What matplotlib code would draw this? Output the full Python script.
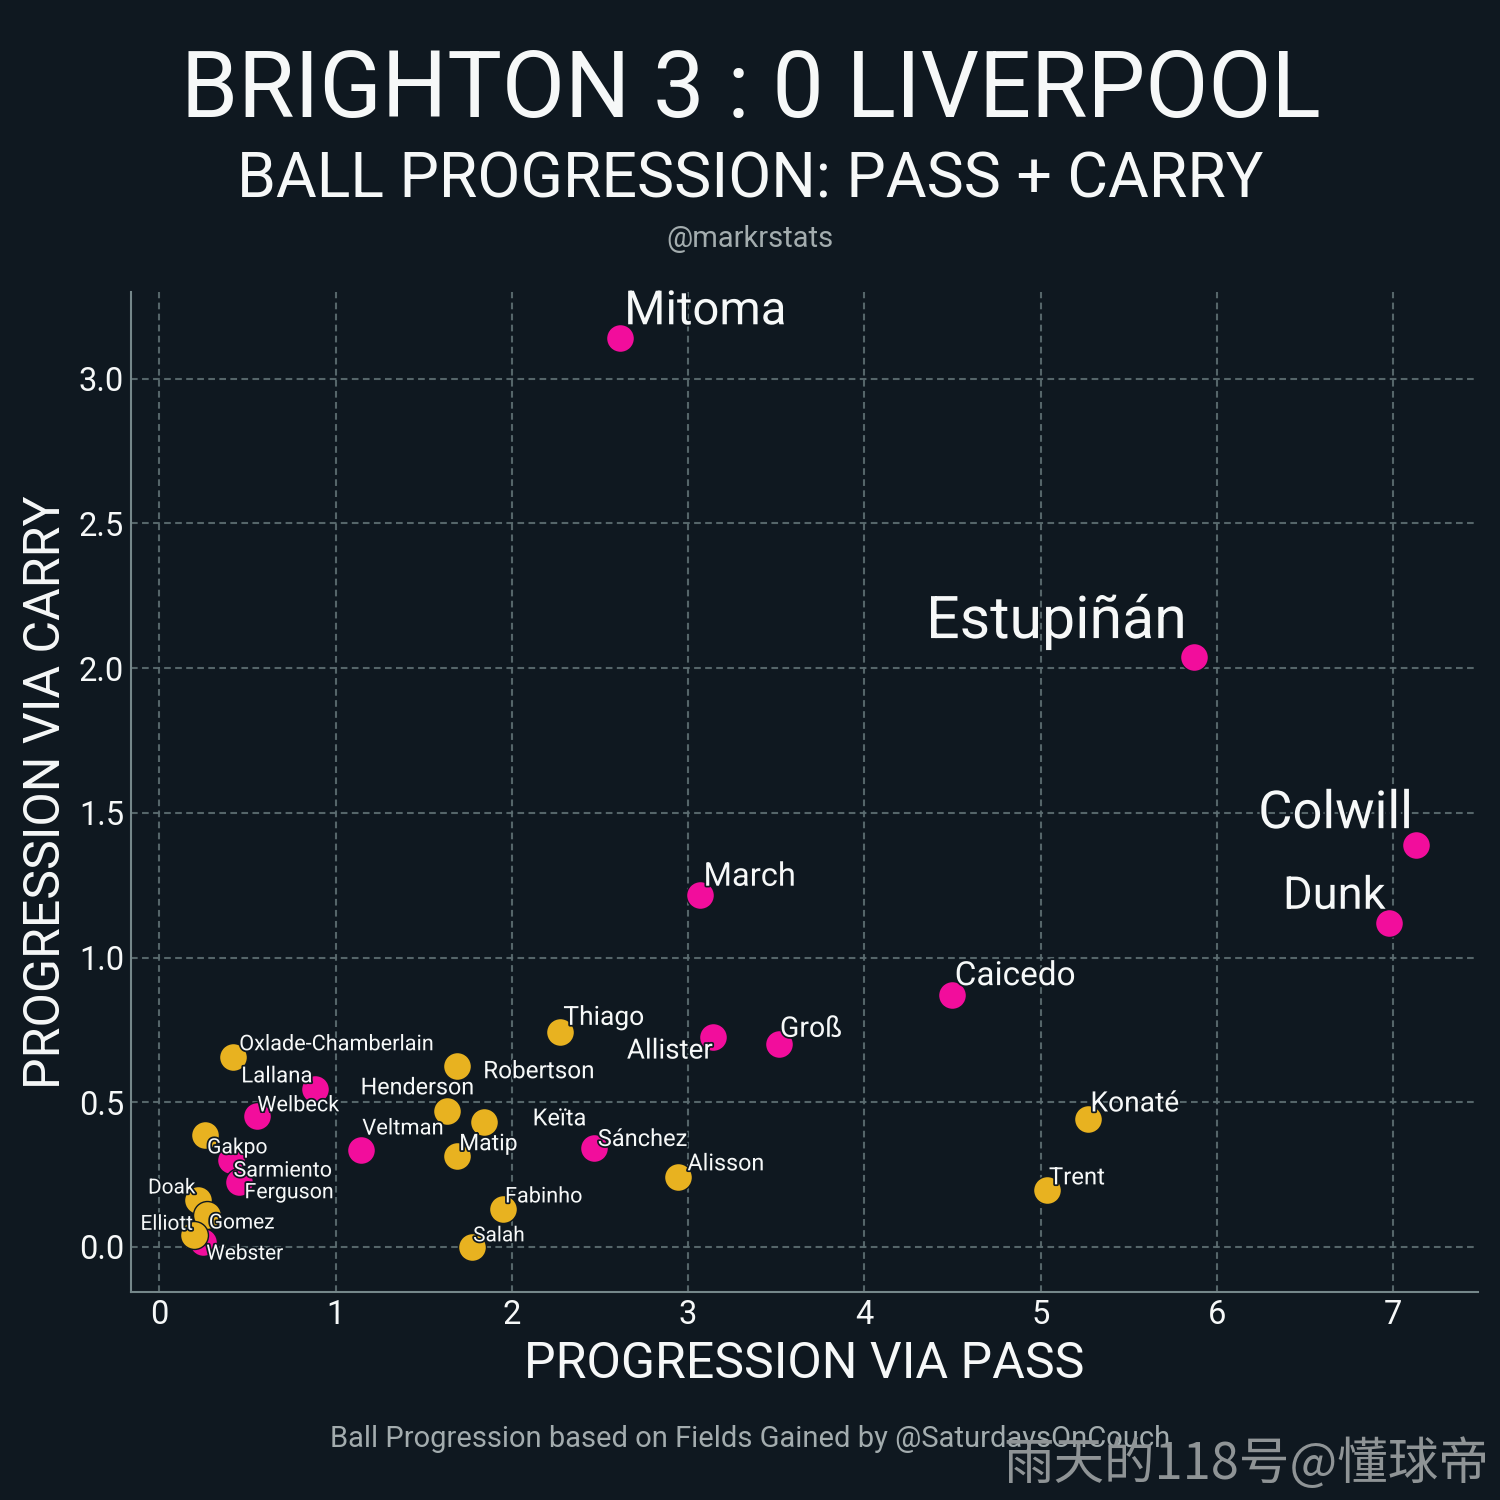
import matplotlib
matplotlib.use("Agg")
import matplotlib.pyplot as plt
import matplotlib.patheffects as pe

plt.rcParams['font.family'] = ['Roboto', 'DejaVu Sans']

BG = '#0f1820'
PINK = '#f20d9c'
GOLD = '#e8b220'
FG = '#f6f8f8'

title = 'BRIGHTON 3 : 0 LIVERPOOL'
subtitle = 'BALL PROGRESSION: PASS + CARRY'
handle = '@markrstats'
source = 'Ball Progression based on Fields Gained by @SaturdaysOnCouch'
watermark = '雨天的118号@懂球帝'
xlabel = 'PROGRESSION VIA PASS'
ylabel = 'PROGRESSION VIA CARRY'
xticks = [0, 1, 2, 3, 4, 5, 6, 7]
yticks = [0.0, 0.5, 1.0, 1.5, 2.0, 2.5, 3.0]

bri_names = ['Mitoma', 'Estupiñán', 'Colwill', 'Dunk', 'March', 'Caicedo', 'Groß', 'Allister',
             'Sánchez', 'Veltman', 'Lallana', 'Welbeck', 'Sarmiento', 'Ferguson', 'Webster']
bri_pass = [2.615, 5.87, 7.13, 6.975, 3.07, 4.495, 3.515, 3.14, 2.465, 1.146, 0.885, 0.556, 0.41, 0.455, 0.25]
bri_carry = [3.14, 2.04, 1.39, 1.12, 1.217, 0.87, 0.70, 0.725, 0.34, 0.335, 0.546, 0.453, 0.30, 0.225, 0.017]

liv_names = ['Oxlade-Chamberlain', 'Robertson', 'Henderson', 'Keïta', 'Matip', 'Thiago', 'Alisson', 'Konaté',
             'Trent', 'Fabinho', 'Salah', 'Gakpo', 'Doak', 'Gomez', 'Elliott']
liv_pass = [0.42, 1.69, 1.63, 1.84, 1.69, 2.275, 2.945, 5.27, 5.035, 1.95, 1.775, 0.26, 0.22, 0.27, 0.20]
liv_carry = [0.657, 0.626, 0.47, 0.432, 0.315, 0.743, 0.242, 0.442, 0.197, 0.131, 0.0, 0.387, 0.162, 0.11, 0.04]

# label layout: name -> (dx px, dy px from point to left-centre of label, font size pt)
label_style = {
    'Mitoma': (4, 27, 34), 'Estupiñán': (-268, 35, 42.5), 'Colwill': (-158, 31, 37.8), 'Dunk': (-106, 26, 32.6),
    'March': (3, 18, 23.5), 'Caicedo': (3, 19, 24), 'Groß': (1, 15, 20.5), 'Allister': (-86, -14, 20),
    'Sánchez': (4, 9, 17), 'Veltman': (1, 21, 15.8), 'Lallana': (-74, 12, 16), 'Welbeck': (0, 10, 15.6),
    'Sarmiento': (2, -11, 15.5), 'Ferguson': (5, -11, 15.4), 'Webster': (3, -12, 15),
    'Oxlade-Chamberlain': (6, 12, 15.6), 'Robertson': (26, -6, 17.5), 'Henderson': (-86, 23, 16.8),
    'Keïta': (49, 3, 17), 'Matip': (2, 12, 16.5), 'Thiago': (3, 14, 19), 'Alisson': (9, 13, 16.8),
    'Konaté': (2, 15, 20.3), 'Trent': (2, 12, 17.2), 'Fabinho': (2, 12, 15.6), 'Salah': (1, 11, 15),
    'Gakpo': (2, -13, 15.2), 'Doak': (-50, 12, 15), 'Gomez': (2, -8, 15), 'Elliott': (-54, 11, 15),
}

fig = plt.figure(figsize=(15, 15), dpi=100, facecolor=BG)
ax = fig.add_axes([131/1500, 1 - 1292/1500, (1478-131)/1500, (1292-292)/1500], facecolor=BG)
ax.set_xlim(-0.16, 7.48)
ax.set_ylim(-0.156, 3.30)
ax.grid(True, color='#5d6e72', linestyle=(0, (3.2, 2.1)), linewidth=1.5, alpha=0.9, zorder=0)
ax.set_axisbelow(True)
for s in ('top', 'right'):
    ax.spines[s].set_visible(False)
for s in ('left', 'bottom'):
    ax.spines[s].set_color('#75878a')
    ax.spines[s].set_linewidth(1.5)
ax.set_xticks(xticks)
ax.set_yticks(yticks)
ax.set_yticklabels([f'{v:.1f}' for v in yticks])
ax.tick_params(axis='both', length=0, labelsize=23.5, labelcolor=FG, pad=5)
ax.set_xlabel(xlabel, fontsize=36, color=FG, labelpad=6.5)
ax.set_ylabel(ylabel, fontsize=36, color=FG, labelpad=6)
ax.yaxis.label.set_y(0.5)

ax.scatter(bri_pass, bri_carry, s=405, color=PINK, edgecolor=BG, linewidth=1, zorder=3)
ax.scatter(liv_pass, liv_carry, s=405, color=GOLD, edgecolor=BG, linewidth=1, zorder=4)

stroke = [pe.withStroke(linewidth=2.5, foreground=BG)]
for names, xs, ys in ((bri_names, bri_pass, bri_carry), (liv_names, liv_pass, liv_carry)):
    for n, x, y in zip(names, xs, ys):
        dx, dy, fs = label_style[n]
        ax.annotate(n, (x, y), xytext=(dx, dy), textcoords='offset pixels', ha='left', va='center',
                    fontsize=fs, color=FG, path_effects=stroke, zorder=5)

fig.text(751/1500, 1 - 91/1500, title, ha='center', va='center', fontsize=66, color=FG)
fig.text(750/1500, 1 - 180/1500, subtitle, ha='center', va='center', fontsize=45, color=FG)
fig.text(750/1500, 1 - 239/1500, handle, ha='center', va='center', fontsize=21, color='#a3acae')
fig.text(750/1500, 1 - 1439/1500, source, ha='center', va='center', fontsize=21, color='#a3acae')
fig.text(1246/1500, 1 - 1465/1500, watermark, ha='center', va='center', fontsize=36.4, color='#8f9496',
         family=['Noto Sans CJK SC', 'DejaVu Sans'], weight='light')

fig.savefig('out.png', dpi=100, facecolor=BG)
